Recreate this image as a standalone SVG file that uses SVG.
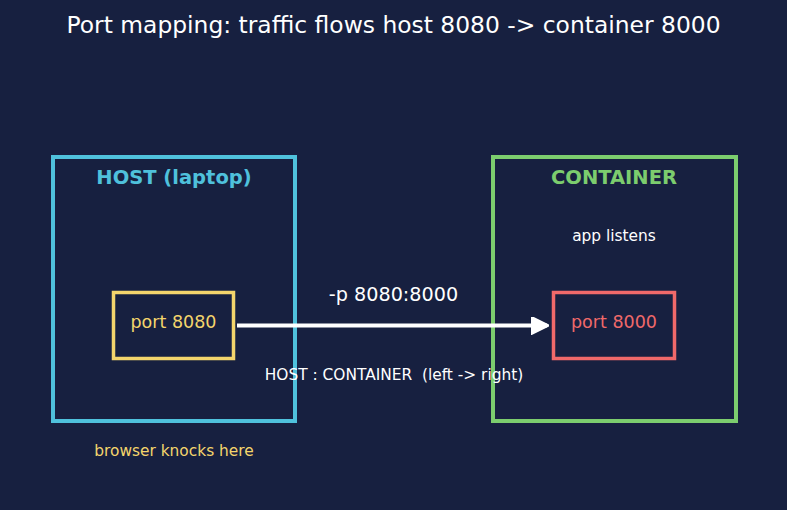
<svg xmlns="http://www.w3.org/2000/svg" width="787" height="510" viewBox="0 0 787 510">
<defs>
<style>
text{font-family:"DejaVu Sans","Liberation Sans",sans-serif;text-anchor:middle}
.box{fill:none;stroke-width:4}
.w{fill:#ffffff}
</style>
<marker id="ah" viewBox="0 0 10 10" refX="9" refY="5" markerWidth="4.5" markerHeight="4.5" orient="auto" markerUnits="strokeWidth">
<path d="M0,0 L10,5 L0,10 Z" fill="#ffffff" stroke="#ffffff" stroke-linejoin="round"/>
</marker>
</defs>
<rect width="787" height="510" fill="#172040"/>
<text x="393.5" y="33" class="w" font-size="23.4">Port mapping: traffic flows host 8080 -&gt; container 8000</text>
<g id="host">
<rect x="53" y="157" width="242" height="264" class="box" stroke="#4fc1dc"/>
<text x="174" y="184" font-size="19.5" font-weight="bold" fill="#4fc1dc">HOST (laptop)</text>
<text x="174" y="456" font-size="15.4" fill="#f4d56c">browser knocks here</text>
</g>
<g id="container">
<rect x="493" y="157" width="243" height="264" class="box" stroke="#7ccd6e"/>
<text x="614" y="184" font-size="19.5" font-weight="bold" fill="#7ccd6e">CONTAINER</text>
<text x="614" y="241" class="w" font-size="15.4">app listens</text>
</g>
<g id="port8080">
<rect x="113.5" y="292.5" width="120" height="66" fill="none" stroke="#f4d56c" stroke-width="3.5"/>
<text x="173.5" y="328" font-size="17.5" fill="#f4d56c">port 8080</text>
</g>
<g id="port8000">
<rect x="553.5" y="292.5" width="121" height="66" fill="none" stroke="#f0696a" stroke-width="3.5"/>
<text x="614" y="328" font-size="17.5" fill="#f0696a">port 8000</text>
</g>
<g id="connectors">
<line x1="237" y1="325.5" x2="547" y2="325.5" stroke="#ffffff" stroke-width="4" marker-end="url(#ah)"/>
</g>
<text x="393.5" y="301" class="w" font-size="19.2">-p 8080:8000</text>
<text x="394" y="380" class="w" font-size="15.4" xml:space="preserve">HOST : CONTAINER  (left -&gt; right)</text>
</svg>
